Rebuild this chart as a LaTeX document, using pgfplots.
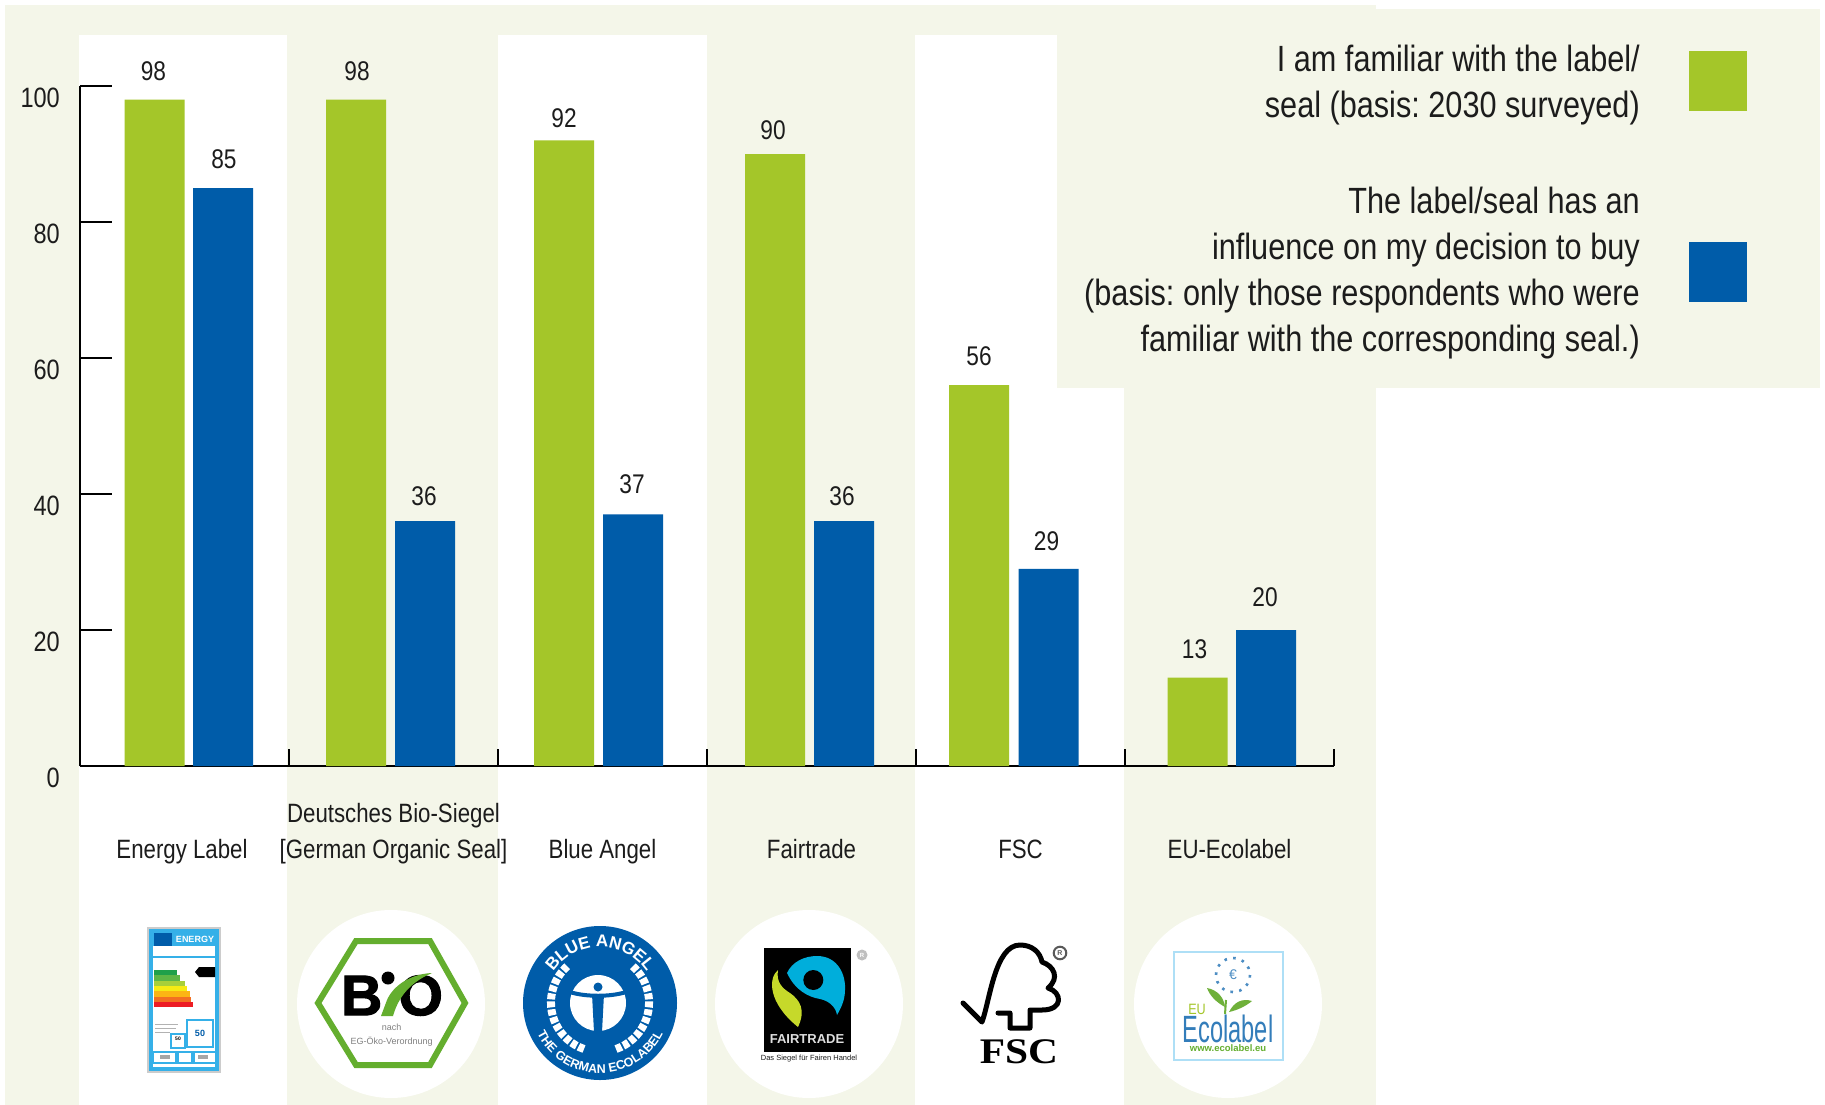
\documentclass[border=0pt]{standalone}
\usepackage{pgfplots}
\pgfplotsset{compat=1.18}
\usepackage{fontspec}
\setmainfont[FakeStretch=0.84]{Liberation Sans}
\newfontfamily\logosans{Liberation Sans}
\newfontfamily\logoheavy{Liberation Sans}[BoldFeatures={FakeBold=2}]
\newfontfamily\logoserif{Liberation Serif}
\usetikzlibrary{decorations.text}
\definecolor{cream}{HTML}{F4F6E9}
\definecolor{bargreen}{HTML}{A4C629}
\definecolor{barblue}{HTML}{005CA9}
\definecolor{txt}{HTML}{1C1C1C}
\definecolor{ltblue}{HTML}{35B0E8}
\definecolor{biogreen}{HTML}{64AE2E}
\definecolor{ea}{HTML}{1FA04A}
\definecolor{eb}{HTML}{5DB646}
\definecolor{ec}{HTML}{A8CF3A}
\definecolor{ed}{HTML}{F6EB14}
\definecolor{ee}{HTML}{FCB514}
\definecolor{ef}{HTML}{F37021}
\definecolor{eg}{HTML}{ED1C24}
\definecolor{ftblue}{HTML}{00AEDB}
\definecolor{ftgreen}{HTML}{C6D92A}
\definecolor{euleaf}{HTML}{6FB03A}
\newcommand{\fsz}[1]{\fontsize{#1}{#1}\selectfont}
\pgfplotstableread{
x y dy dx
154.5 98 19.6 -1
356 98 19.6 1
564 92 12.7 0
775 90 15 -2
979 56 19.6 0
1197.5 13 19.6 -3
}\familiar
\pgfplotstableread{
x y dy dx
223 85 19.6 1
425 36 16 -1
633 37 20.8 -1
844 36 16 -2
1048.5 29 18.5 -2
1266 20 24 -1
}\influence
\begin{document}
\frenchspacing
\begin{tikzpicture}
\begin{scope}[x=1pt,y=-1pt]
\fill[white] (0,0) rectangle (1825,1105);
\fill[cream] (5,5) rectangle (1376,1105);
\fill[white] (79,35) rectangle (287,1105);
\fill[white] (498,35) rectangle (706.5,1105);
\fill[white] (915,35) rectangle (1124,1105);
\fill[cream] (1057,9) rectangle (1820,388);
\fill[cream] (1057,5) rectangle (1376,9);
% circles
\fill[white] (391,1004) circle[radius=94];
\fill[white] (809,1004) circle[radius=94];
\fill[white] (1228,1004) circle[radius=94];
% legend
\fill[bargreen] (1689,51) rectangle (1747,111);
\fill[barblue] (1689,242) rectangle (1747,302);
\node[anchor=north east,align=right,inner sep=0pt,text=txt,font=\fontsize{36.5}{46}\selectfont] at (1640,45) {I am familiar with the label/\\seal (basis: 2030 surveyed)};
\node[anchor=north east,align=right,inner sep=0pt,text=txt,font=\fontsize{36.5}{46}\selectfont] at (1640,187) {The label/seal has an\\influence on my decision to buy\\(basis: only those respondents who were\\familiar with the corresponding seal.)};
% energy label logo
\draw[gray!40,line width=1.5pt,fill=white] (148,928) rectangle (220,1072);
\draw[ltblue,line width=3.5pt] (151,931) rectangle (217,1069);
\fill[ltblue] (151,931) rectangle (217,946);
\fill[barblue] (154,933) rectangle (172,946);
\node[font=\logosans\bfseries\fsz{9},text=white] at (195,939) {ENERGY};
\draw[ltblue,line width=2pt] (153,957) -- (216,957);
\fill[ea] (154,970) rectangle (177,975);
\fill[eb] (154,975.3) rectangle (180,980.6);
\fill[ec] (154,980.6) rectangle (185,986);
\fill[ed] (154,986) rectangle (187,991.3);
\fill[ee] (154,991.3) rectangle (190,996.6);
\fill[ef] (154,996.6) rectangle (191,1002);
\fill[eg] (154,1002) rectangle (193,1007);
\fill[black] (199,967) -- (215,967) -- (215,977) -- (199,977) -- (195,972) -- cycle;
\draw[gray!60,line width=1pt] (155,1024) -- (178,1024) (155,1028) -- (176,1028) (155,1032) -- (170,1032);
\draw[ltblue,line width=2pt] (187,1020) rectangle (213,1047);
\node[font=\logosans\bfseries\fsz{9},text=barblue] at (200,1033) {50};
\draw[ltblue,line width=2pt] (171,1034) rectangle (185,1048);
\node[font=\logosans\bfseries\fsz{5}] at (178,1039) {50};
\draw[ltblue,line width=1.8pt] (153,1052) rectangle (176,1063);
\draw[ltblue,line width=1.8pt] (178,1052) rectangle (192,1063);
\draw[ltblue,line width=1.8pt] (194,1052) rectangle (216,1063);
\fill[gray!70] (160,1055) rectangle (170,1059);
\fill[gray!70] (198,1055) rectangle (208,1059);
% bio logo
\draw[color=biogreen,line width=6pt,line join=miter] (318,1003) -- (356,941) -- (430,941) -- (465,1003) -- (430,1065) -- (356,1065) -- cycle;
\node[font=\logoheavy\bfseries\fsz{57},inner sep=0pt] at (361.7,995.5) {B};
\node[font=\logoheavy\bfseries\fsz{57},inner sep=0pt] at (420.7,995.5) {O};
\fill[black] (388,978) circle[radius=6.5];
\fill[biogreen] (381,1016) -- (393,1016) .. controls (397,1002) and (406,984) .. (432,973) .. controls (410,974) and (393,986) .. (387,1000) -- cycle;
\node[font=\logosans\fsz{9},text=gray] at (391.7,1027) {nach};
\node[font=\logosans\fsz{9},text=gray] at (391.7,1042) {EG-Öko-Verordnung};
% blue angel logo
\fill[barblue] (600,1003) circle[radius=77];
\path[decorate,decoration={text along path,text align=center,text={|\logosans\bfseries\fsz{17}\color{white}|BLUE ANGEL}}] (544,1003) arc[start angle=180,end angle=360,radius=56];
\path[decorate,decoration={text along path,text align=center,text={|\logosans\bfseries\fsz{12.5}\color{white}|THE GERMAN ECOLABEL}}] (530,1003) arc[start angle=180,end angle=0,radius=70];
\draw[white,line width=8pt,dash pattern=on 6pt off 2pt] (600,1003) ++(-16,46) arc[start angle=109,end angle=228,radius=49];
\draw[white,line width=8pt,dash pattern=on 6pt off 2pt] (600,1003) ++(16,46) arc[start angle=71,end angle=-48,radius=49];
\fill[white] (598,1003) circle[radius=28];
\fill[barblue] (598,987) circle[radius=4.5];
\draw[barblue,line width=4pt] (570,992) .. controls (585,997) and (611,997) .. (626,992);
\fill[barblue] (592,994) -- (604,994) -- (602,1032) -- (594,1032) -- cycle;
% fairtrade logo
\fill[black] (764,948) rectangle (851,1052);
\fill[ftblue] (787,973) .. controls (792,962) and (804,956) .. (817,956) .. controls (838,956) and (846,975) .. (845,990) .. controls (845,1000) and (841,1008) .. (837,1015) .. controls (836,1008) and (830,1001) .. (820,999) .. controls (808,997) and (795,990) .. cycle;
\fill[black] (813.3,980) circle[radius=10];
\fill[ftgreen] (778,970) .. controls (768,978) and (768,1003) .. (798,1027) .. controls (806,1010) and (800,1000) .. (790,993) .. controls (782,988) and (776,982) .. (778,970) -- cycle;
\node[font=\logosans\bfseries\fsz{13},text=gray!25] at (807,1039) {FAIRTRADE};
\node[font=\logosans\fsz{7.5},text=txt] at (809,1059) {Das Siegel für Fairen Handel};
\fill[gray!50] (862,955) circle[radius=5.5];
\node[font=\logosans\bfseries\fsz{6},text=white,inner sep=0pt] at (862,955) {R};
% FSC logo
\draw[black,line width=5pt,line join=round,line cap=round] (963,1003) -- (982,1022) .. controls (990,1000) and (995,945) .. (1020,945) .. controls (1032,945) and (1040,952) .. (1042,962) .. controls (1054,966) and (1060,978) .. (1048,988) .. controls (1062,992) and (1064,1010) .. (1042,1010) -- (1030,1010) -- (1030,1028) -- (1010,1028) -- (1010,1013) -- (998,1013);
\node[font=\logoserif\bfseries\fsz{36},text=black,xscale=1.15] at (1019,1052) {FSC};
\node[draw=gray!70!black,line width=2pt,circle,inner sep=2pt,font=\logosans\bfseries\fsz{7},text=gray!70!black] at (1060,953) {R};
% eu ecolabel logo
\draw[ltblue!40!white,line width=1.5pt,fill=white] (1174,952) rectangle (1283,1060);
\draw[barblue!70,line width=2.6pt,dash pattern=on 2.6pt off 6.3pt] (1233,975) circle[radius=17];
\node[font=\logosans\fsz{14},text=barblue!70] at (1233,975) {€};
\fill[euleaf] (1207,988) .. controls (1218,990) and (1224,998) .. (1225,1007) .. controls (1216,1002) and (1210,996) .. (1207,988) -- cycle;
\fill[euleaf] (1229,1012) .. controls (1234,1002) and (1242,998) .. (1252,1001) .. controls (1246,1006) and (1238,1010) .. (1229,1012) -- cycle;
\draw[euleaf,line width=2pt] (1225,1014) -- (1226,1000);
\node[font=\fsz{15},text=bargreen] at (1197,1009) {EU};
\node[font=\fsz{38},text=barblue!80,xscale=0.74] at (1228,1029) {Ecolabel};
\node[font=\logosans\bfseries\fsz{9.5},text=biogreen] at (1228,1048) {www.ecolabel.eu};
\end{scope}
\begin{axis}[
  at={(80pt,-766pt)},anchor=south west,
  scale only axis,width=1254pt,height=680pt,
  xmin=80,xmax=1334,ymin=0,ymax=100,
  clip=false,
  axis lines=left,
  axis line style={-,line width=2.6pt,black},
  xtick={182,393.5,602.5,811.5,1020.5,1229.5},
  xticklabels={{Energy Label\strut},{Deutsches Bio-Siegel\strut\\{[German Organic Seal]\strut}},{Blue Angel\strut},{Fairtrade\strut},{FSC\strut},{EU-Ecolabel\strut}},
  minor xtick={80,289,498,707,916,1125,1334},
  ytick={0,20,40,60,80,100},
  major tick length=32pt,
  minor tick length=17pt,
  tick align=inside,
  major x tick style={draw=none},
  minor x tick style={draw=black,line width=2pt},
  ytick style={line width=2pt,black},
  xticklabel style={anchor=south,yshift=-103pt,align=center,font=\fontsize{26.5}{36}\selectfont,text=txt,inner sep=0pt},
  yticklabel style={anchor=east,font=\fsz{28},text=txt,yshift=-12pt,xshift=-20pt,inner sep=0pt},
  /pgf/number format/assume math mode=true,
  visualization depends on={\thisrow{dy} \as \lblup},
  visualization depends on={\thisrow{dx} \as \lblright},
  nodes near coords,
  every node near coord/.append style={font=\fsz{27},text=txt,anchor=base,yshift=\lblup pt,xshift=\lblright pt,inner sep=0pt},
]
\addplot[ybar,bar width=60pt,bar shift=0pt,fill=bargreen,draw=none] table[x=x,y=y] {\familiar};
\addplot[ybar,bar width=60pt,bar shift=0pt,fill=barblue,draw=none] table[x=x,y=y] {\influence};
\end{axis}
\end{tikzpicture}
\end{document}
